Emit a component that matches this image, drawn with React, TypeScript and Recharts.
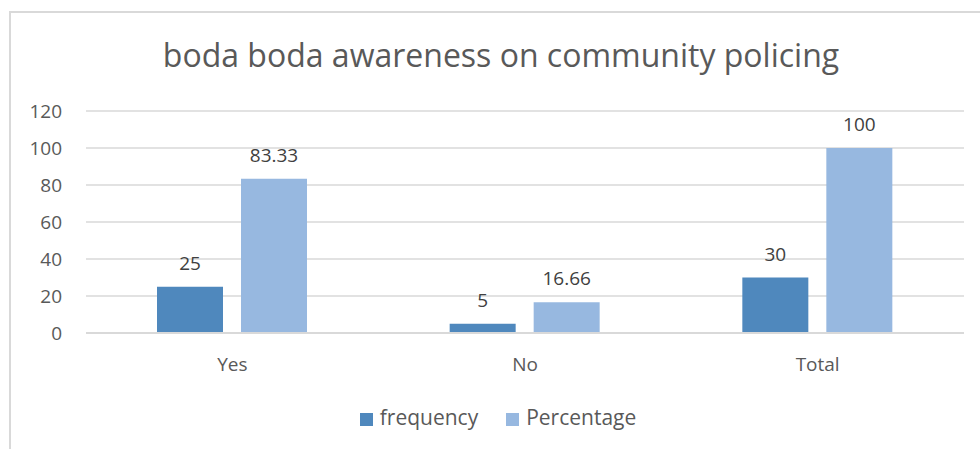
import React from "react";
import { BarChart, Bar, XAxis, YAxis, CartesianGrid, Legend, LabelList } from "recharts";

const categories = ["Yes", "No", "Total"];
const frequency = [25, 5, 30];
const percentage = [83.33, 16.66, 100];
const yTicks = [0, 20, 40, 60, 80, 100, 120];

const data = categories.map((c, i) => ({ name: c, frequency: frequency[i], Percentage: percentage[i] }));

const FONT = "'Open Sans', 'Liberation Sans', sans-serif";

export default function App() {
  return (
    <div style={{ position: "absolute", left: 0, top: 0, width: 980, height: 449, overflow: "hidden", background: "#fff", fontFamily: FONT }}>
      <div style={{ position: "absolute", left: 9, top: 11, width: 1000, height: 500, border: "2px solid #d9d9d9" }} />
      <div style={{ position: "absolute", left: 0, top: 33, width: 1002, textAlign: "center", fontSize: 32, color: "#595959" }}>
        boda boda awareness on community policing
      </div>
      <div style={{ position: "absolute", left: 0, top: 0 }}>
        <BarChart width={980} height={449} data={data} margin={{ top: 111, right: 16, left: 0, bottom: 18 }} barGap={18} barSize={66}>
          <CartesianGrid vertical={false} stroke="#d9d9d9" strokeWidth={1.5} />
          <XAxis dataKey="name" axisLine={{ stroke: "#d9d9d9", strokeWidth: 2 }} tickLine={false} height={70} tickMargin={19}
            tick={{ fill: "#595959", fontSize: 19, fontFamily: FONT }} />
          <YAxis domain={[0, 120]} ticks={yTicks} axisLine={false} tickLine={false} width={86} tickSize={0} tickMargin={24}
            tick={{ fill: "#595959", fontSize: 19, fontFamily: FONT }} />
          <Legend verticalAlign="bottom" iconType="square" iconSize={13}
            itemSorter={(item: any) => (item.dataKey === "frequency" ? 0 : 1)}
            wrapperStyle={{ fontSize: 21, fontFamily: FONT, color: "#595959", left: 30 }}
            formatter={(v: string) => <span style={{ color: "#595959", marginLeft: 3, marginRight: 18 }}>{v}</span>} />
          <Bar dataKey="frequency" fill="#4f88bd" isAnimationActive={false}>
            <LabelList dataKey="frequency" position="top" offset={17} fill="#404040" fontSize={19} fontFamily={FONT} />
          </Bar>
          <Bar dataKey="Percentage" fill="#97b8e0" isAnimationActive={false}>
            <LabelList dataKey="Percentage" position="top" offset={17} fill="#404040" fontSize={19} fontFamily={FONT} />
          </Bar>
        </BarChart>
      </div>
    </div>
  );
}
